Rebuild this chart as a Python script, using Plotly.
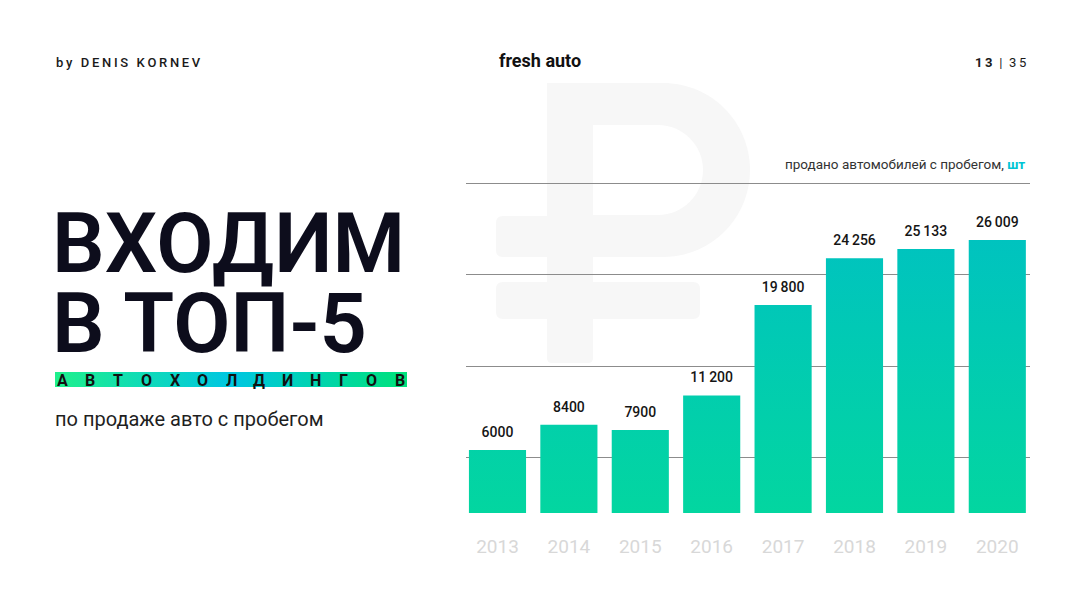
import plotly.graph_objects as go

# ---------------- data ----------------
years = ["2013", "2014", "2015", "2016", "2017", "2018", "2019", "2020"]
sold = [6000, 8400, 7900, 11200, 19800, 24256, 25133, 26009]
band_word = "АВТОХОЛДИНГОВ"

W, H = 1080, 608


def px(x):
    return x / W


def py(y):
    return 1 - y / H


def fmt(v):
    return f"{v:,}".replace(",", "\u2009") if v >= 10000 else str(v)


def path(cmds):
    """cmds: list of (letter, [x1, y1, x2, y2, ...]) in pixel coordinates -> paper path"""
    out = []
    for c, pts in cmds:
        conv = []
        for i in range(0, len(pts), 2):
            conv.append(f"{px(pts[i]):.5f},{py(pts[i + 1]):.5f}")
        out.append(c + " ".join(conv))
    return " ".join(out)


def rrect(x0, y0, x1, y1, r):
    return path([
        ("M", [x0 + r, y0]), ("L", [x1 - r, y0]), ("Q", [x1, y0, x1, y0 + r]),
        ("L", [x1, y1 - r]), ("Q", [x1, y1, x1 - r, y1]), ("L", [x0 + r, y1]),
        ("Q", [x0, y1, x0, y1 - r]), ("L", [x0, y0 + r]), ("Q", [x0, y0, x0 + r, y0]),
    ]) + " Z"


def dshape(x0, xc, y0, y1, fillc):
    R = (y1 - y0) / 2
    ym = (y0 + y1) / 2
    k = 0.5523 * R
    p = path([
        ("M", [x0, y0]), ("L", [xc, y0]),
        ("C", [xc + k, y0, xc + R, ym - k, xc + R, ym]),
        ("C", [xc + R, ym + k, xc + k, y1, xc, y1]),
        ("L", [x0, y1]),
    ]) + " Z"
    return dict(type="path", path=p, xref="paper", yref="paper",
                fillcolor=fillc, line=dict(width=0), layer="below")


RUB = "#F7F7F7"
FONT = "Roboto"

idx = list(range(len(years)))
half = 0.4
bx, by = [], []
for i, v in zip(idx, sold):
    bx += [i - half, i - half, i + half, i + half, i - half, None]
    by += [0, v, v, 0, 0, None]

fig = go.Figure()

fig.add_trace(go.Scatter(
    x=bx, y=by, mode="none", fill="toself", hoverinfo="skip",
    fillgradient=dict(type="vertical",
                      colorscale=[[0, "#03D6A0"], [1, "#00C3BF"]],
                      start=0, stop=max(sold)),
    showlegend=False,
))

fig.add_trace(go.Scatter(
    x=idx, y=sold, mode="markers+text", text=[fmt(v) for v in sold],
    textposition="top center",
    marker=dict(size=14, color="rgba(0,0,0,0)"),
    textfont=dict(size=14, color="#151515", family=FONT, weight=500),
    showlegend=False, hoverinfo="skip",
))

# gradient band under "АВТОХОЛДИНГОВ" (pixel axes)
fig.add_trace(go.Scatter(
    x=[55, 407, 407, 55, 55], y=[372, 372, 387, 387, 372],
    xaxis="x2", yaxis="y2", mode="none", fill="toself", hoverinfo="skip",
    fillgradient=dict(type="horizontal",
                      colorscale=[[0, "#1FF08C"], [0.5, "#00C6E2"], [1, "#00E27A"]]),
    showlegend=False,
))

shapes = [
    dshape(547, 663, 83, 257, RUB),
    dshape(593, 658, 125, 215, "#FFFFFF"),
    dict(type="path", path=rrect(496, 216, 600, 257, 7), xref="paper", yref="paper",
         fillcolor=RUB, line=dict(width=0), layer="below"),
    dict(type="path", path=rrect(496, 282, 700, 319, 7), xref="paper", yref="paper",
         fillcolor=RUB, line=dict(width=0), layer="below"),
    dict(type="path", path=rrect(547, 83, 593, 363, 5), xref="paper", yref="paper",
         fillcolor=RUB, line=dict(width=0), layer="below"),
]

ann = []


def add(text, x, y, size, color="#151515", xa="left", ya="middle", weight=400, family=FONT):
    ann.append(dict(text=text, x=px(x), y=py(y), xref="paper", yref="paper",
                    xanchor=xa, yanchor=ya, showarrow=False,
                    font=dict(size=size, color=color, family=family, weight=weight)))


add("\u2009".join("by DENIS KORNEV"), 54, 62, 13, "#1a1a1a", weight=500)
add("fresh auto", 540, 60, 18, "#111111", xa="center", weight=700)
add("<b>1\u20093</b>\u2002|\u20023\u20095", 1028, 62, 13, "#1a1a1a", xa="right")
add("ВХОДИМ", 50, 243, 83, "#0D0D1C", weight=600)
add("В ТОП-5", 50, 323, 83, "#0D0D1C", weight=600)
add("по продаже авто с пробегом", 53, 419, 20, "#1f1f1f")
add("продано автомобилей с пробегом, <span style='color:#00C4D4'><b>шт</b></span>",
    1027, 164, 13.5, "#333333", xa="right")

n = len(band_word)
for j, ch in enumerate(band_word):
    add(ch, 62 + j * (400 - 62) / (n - 1), 380, 16, "#111111", xa="center", weight=700)

fig.update_layout(
    width=W, height=H,
    margin=dict(l=0, r=0, t=0, b=0),
    paper_bgcolor="white", plot_bgcolor="rgba(0,0,0,0)",
    shapes=shapes, annotations=ann,
    xaxis=dict(domain=[466 / W, 1030 / W], range=[-0.441, 7.458],
               tickmode="array", tickvals=idx, ticktext=years,
               showgrid=False, zeroline=False, showline=False,
               ticks="outside", ticklen=16, tickcolor="rgba(0,0,0,0)",
               tickfont=dict(size=19, color="#D8D8D8", family=FONT),
               fixedrange=True),
    yaxis=dict(domain=[(H - 513) / H, (H - 177) / H], range=[0, 32000],
               tickmode="linear", tick0=5300, dtick=8700,
               showticklabels=False, showgrid=True, gridcolor="#8C8C8C", gridwidth=1,
               zeroline=False, showline=False, fixedrange=True),
    xaxis2=dict(domain=[0, 1], range=[0, W], anchor="y2", visible=False, fixedrange=True),
    yaxis2=dict(domain=[0, 1], range=[H, 0], anchor="x2", visible=False, fixedrange=True),
    showlegend=False,
)

fig.write_html("out.html")
